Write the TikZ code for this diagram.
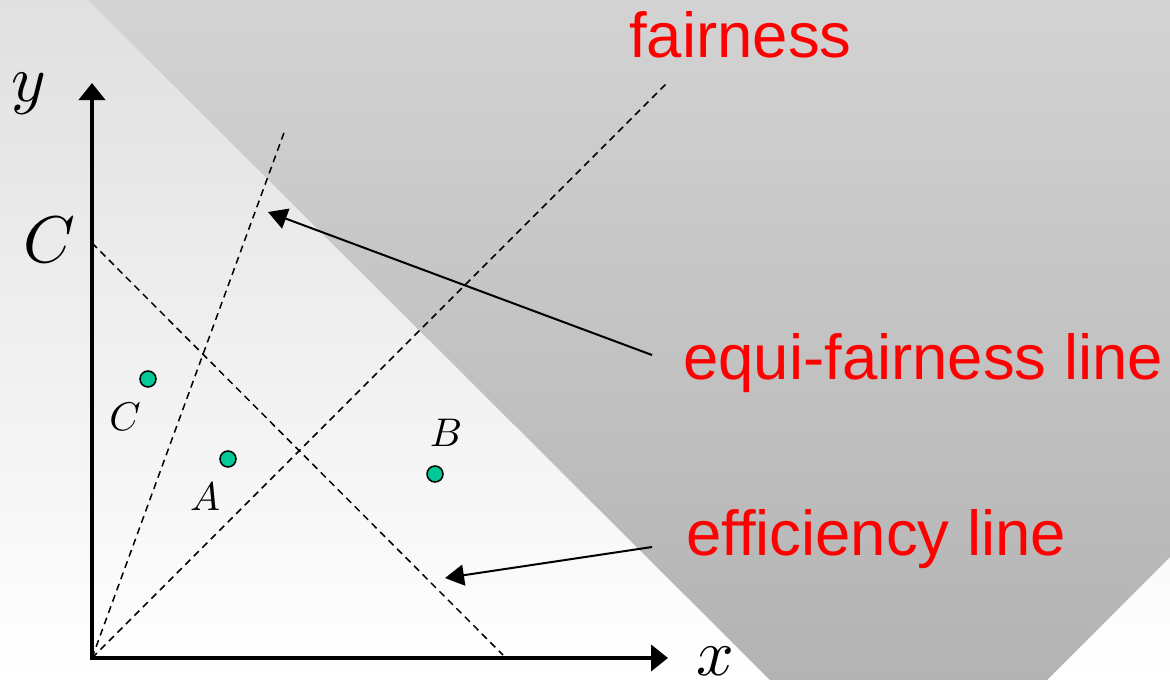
\documentclass[tikz,border=0pt]{standalone}
\usepackage{fontspec}
\newfontfamily\arialfont{Liberation Sans}
\usetikzlibrary{arrows.meta}
\definecolor{dotgreen}{HTML}{00C896}
\definecolor{labred}{HTML}{FF0000}
\definecolor{lighttop}{HTML}{E0E0E0}
\definecolor{darktop}{HTML}{D3D3D3}
\definecolor{darkbot}{HTML}{B3B3B3}
\begin{document}
\begin{tikzpicture}[x=1pt,y=-1pt,
 axis/.style={line width=4pt, line join=miter, {Triangle[length=17pt,width=26pt]}-{Triangle[length=17pt,width=26pt]}},
 guide/.style={line width=1.5pt, dash pattern=on 7pt off 5pt},
 pointer/.style={line width=2pt, -{Triangle[length=19pt,width=21pt]}},
 dot/.style={circle, draw=black, line width=1.5pt, fill=dotgreen, minimum size=16pt, inner sep=0pt},
 biglab/.style={inner sep=0pt, font=\fontsize{10}{12}\selectfont, scale=6.6},
 ptlab/.style={inner sep=0pt, font=\fontsize{10}{12}\selectfont, scale=4.0},
 redlab/.style={anchor=base west, inner sep=0pt, text=labred, font=\arialfont\fontsize{63.5}{70}\selectfont}]
\useasboundingbox (0,0) rectangle (1170,680);
% background
\shade[top color=lighttop, bottom color=white] (0,0) rectangle (1170,680);
\shade[top color=darktop, bottom color=darkbot] (88,0) -- (1170,0) -- (1170,557) -- (1047,680) -- (770,680) -- cycle;
% coordinates
\coordinate (O) at (92,658);
\coordinate (ytop) at (92,83);
\coordinate (xend) at (668,658);
\coordinate (cy) at (92,243);
\coordinate (cx) at (503,655);
\coordinate (steep) at (285,130);
\coordinate (diag) at (668,82);
% guide lines
\draw[guide] (cy) -- (cx);
\draw[guide] (O) -- (steep);
\draw[guide] (O) -- (diag);
% axes
\draw[axis] (ytop) -- (O) -- (xend);
% axis labels
\node[biglab] (ylab) at (29,94) {$y$};
\node[biglab] (xlab) at (715,661) {$x$};
\node[biglab] (Clab) at (49,240) {$C$};
% points
\node[dot] (pC) at (148,379) {};
\node[dot] (pA) at (228,459) {};
\node[dot] (pB) at (435,474) {};
\node[ptlab] (lC) at (125,417) {$C$};
\node[ptlab] (lA) at (205,497) {$A$};
\node[ptlab] (lB) at (446,433) {$B$};
% red labels
\node[redlab] (fair) at (629,57) {fairness};
\node[redlab] (equi) at (683,379) {equi-fairness line};
\node[redlab] (eff) at (686,555) {efficiency line};
% pointers
\coordinate (eqs) at (652,355);
\coordinate (eqt) at (268,212);
\coordinate (efs) at (652,547);
\coordinate (eft) at (445,578);
\draw[pointer] (eqs) -- (eqt);
\draw[pointer] (efs) -- (eft);
\end{tikzpicture}
\end{document}
